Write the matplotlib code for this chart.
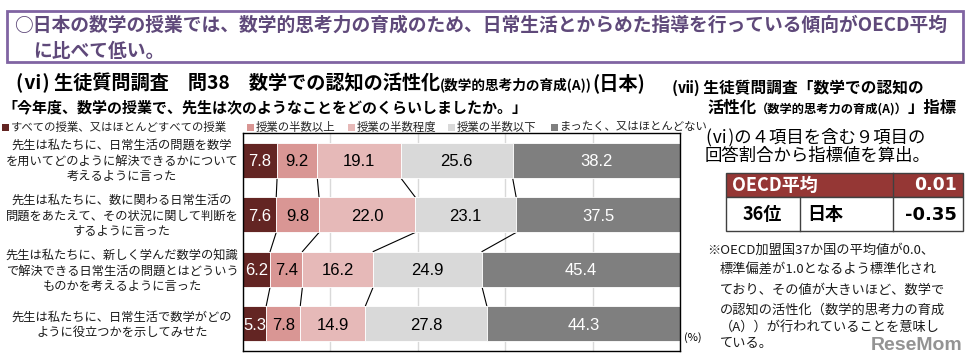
import matplotlib.pyplot as plt
from matplotlib.patches import Rectangle
import numpy as np

plt.rcParams['font.family'] = ['Noto Sans CJK JP', 'DejaVu Sans']

W, H = 976, 354

categories = [
    "先生は私たちに、日常生活の問題を数学\nを用いてどのように解決できるかについて\n考えるように言った",
    "先生は私たちに、数に関わる日常生活の\n問題をあたえて、その状況に関して判断を\nするように言った",
    "先生は私たちに、新しく学んだ数学の知識\nで解決できる日常生活の問題とはどういう\nものかを考えるように言った",
    "先生は私たちに、日常生活で数学がどの\nように役立つかを示してみせた",
]
legend_labels = ["すべての授業、又はほとんどすべての授業", "授業の半数以上",
                 "授業の半数程度", "授業の半数以下", "まったく、又はほとんどない"]

all_lessons = [7.8, 7.6, 6.2, 5.3]
over_half = [9.2, 9.8, 7.4, 7.8]
about_half = [19.1, 22.0, 16.2, 14.9]
under_half = [25.6, 23.1, 24.9, 27.8]
never = [38.2, 37.5, 45.4, 44.3]

oecd_avg = "0.01"
japan_rank = "36位"
japan_value = "-0.35"

series = [all_lessons, over_half, about_half, under_half, never]
colors = ['#632523', '#D99694', '#E6B9B8', '#D9D9D9', '#7F7F7F']
text_colors = ['white', 'black', 'black', 'black', 'white']
purple = '#5F497A'


def fx(x):
    return x / W


def fy(y):
    return 1 - y / H


fig = plt.figure(figsize=(9.76, 3.54), dpi=100)
renderer = fig.canvas.get_renderer()


def run(x, y, parts, color='black'):
    # draw text pieces one after another on a common baseline (pixel coords)
    for s, size, weight in parts:
        t = fig.text(fx(x), fy(y), s, fontsize=size, fontweight=weight,
                     color=color, va='baseline')
        x = t.get_window_extent(renderer).x1
    return x


# stacked bars
ax = fig.add_axes([fx(243), fy(351), 437 / W, 218 / H])
y = np.arange(len(categories))
left = np.zeros(len(categories))
bar_h = 0.65
edges = []
for vals, c, tc in zip(series, colors, text_colors):
    vals = np.array(vals)
    ax.barh(y, vals, left=left, height=bar_h, color=c, edgecolor='white',
            linewidth=0.6, zorder=2)
    for yi, l, v in zip(y, left, vals):
        ax.text(l + v / 2, yi, f"{v:.1f}", ha='center', va='center_baseline',
                color=tc, fontsize=12, family='Liberation Sans', zorder=3)
    left = left + vals
    edges.append(left.copy())

# series lines between bars
for e in edges[:-1]:
    for i in range(len(categories) - 1):
        ax.plot([e[i], e[i + 1]], [i + bar_h / 2, i + 1 - bar_h / 2],
                color='black', lw=0.8, zorder=1)

ax.set_xlim(0, 100)
ax.set_ylim(len(categories) - 0.5, -0.5)
ax.set_xticks(range(0, 101, 20))
ax.set_yticks([])
ax.tick_params(length=0, labelbottom=False)
ax.grid(axis='x', color='#D9D9D9', lw=1)
ax.set_axisbelow(True)
for s in ax.spines.values():
    s.set_color('black')
    s.set_linewidth(1)

# category labels
label_centers = [161, 216, 271, 325]
for lab, yc in zip(categories, label_centers):
    fig.text(fx(122), fy(yc), lab, ha='center', va='center',
             multialignment='center', fontsize=8.8, linespacing=1.25,
             color='#1a1a1a')

fig.text(fx(693), fy(338), "(%)", ha='center', va='center', fontsize=8)

# header box
fig.add_artist(Rectangle((fx(7), fy(62)), 956 / W, 51 / H, transform=fig.transFigure,
                         fill=False, ec='#8064A2', lw=2))
run(14, 31, [("○日本の数学の授業では、数学的思考力の育成のため、日常生活とからめた指導を行っている傾向がOECD平均",
              13.5, 'bold')], color=purple)
run(33, 57, [("に比べて低い。", 13.5, 'bold')], color=purple)

# left titles
run(16, 89, [("(ⅵ) 生徒質問調査　問38　数学での認知の活性化", 13.8, 'bold'),
             ("(数学的思考力の育成(A))", 9.8, 'bold'),
             ("(日本)", 13.8, 'bold')])
run(2, 112, [("「今年度、数学の授業で、先生は次のようなことをどのくらいしましたか。」", 10.8, 'bold')])

# legend
legend_x = [2, 247, 348, 448, 551]
for lx, lab, c in zip(legend_x, legend_labels, colors):
    fig.add_artist(Rectangle((fx(lx), fy(131)), 7 / W, 7 / H, transform=fig.transFigure,
                             color=c, lw=0))
    fig.text(fx(lx + 9), fy(127), lab, va='center', fontsize=8.2, color='#222222')

# right panel
run(672, 93, [("(ⅶ) 生徒質問調査「数学での認知の", 11.3, 'bold')])
run(707, 113, [("活性化", 11.8, 'bold'), ("（数学的思考力の育成(A)）", 8.8, 'bold'),
               ("」指標", 11.8, 'bold')])
run(705, 142, [("(ⅵ)の４項目を含む９項目の", 12.5, 'normal')])
run(705, 161, [("回答割合から指標値を算出。", 12.5, 'normal')])

# index table
fig.add_artist(Rectangle((fx(726), fy(197)), 237 / W, 24 / H, transform=fig.transFigure,
                         fc='#953735', ec='#404040', lw=1))
fig.add_artist(Rectangle((fx(726), fy(231)), 237 / W, 34 / H, transform=fig.transFigure,
                         fc='white', ec='#404040', lw=1))
fig.add_artist(plt.Line2D([fx(893), fx(893)], [fy(173), fy(231)], transform=fig.transFigure,
                          color='#404040', lw=1))
fig.add_artist(plt.Line2D([fx(800), fx(800)], [fy(197), fy(231)], transform=fig.transFigure,
                          color='#404040', lw=1))
fig.text(fx(732), fy(185), "OECD平均", va='center', fontsize=13, fontweight='bold', color='white')
fig.text(fx(957), fy(185), oecd_avg, va='center', ha='right', fontsize=12.5,
         fontweight='bold', color='white', family='DejaVu Sans')
fig.text(fx(762), fy(215), japan_rank, va='center', ha='center', fontsize=13, fontweight='bold')
fig.text(fx(807), fy(215), "日本", va='center', fontsize=13, fontweight='bold')
fig.text(fx(957), fy(215), japan_value, va='center', ha='right', fontsize=13,
         fontweight='bold', family='DejaVu Sans')

# footnote
notes = [
    (707, 250, "※OECD加盟国37か国の平均値が0.0、"),
    (720, 270, "標準偏差が1.0となるよう標準化され"),
    (720, 290, "ており、その値が大きいほど、数学で"),
    (720, 310, "の認知の活性化（数学的思考力の育成"),
    (720, 328, "（A））が行われていることを意味し"),
    (720, 344, "ている。"),
]
for nx, ny, s in notes:
    fig.text(fx(nx), fy(ny), s, va='center', fontsize=9.5, color='#1a1a1a')

fig.text(fx(962), fy(350), "ReseMom", ha='right', va='baseline', fontsize=14,
         fontweight='bold', color='#808080', alpha=0.85, family='Liberation Sans')

fig.savefig("out.png", dpi=100)
